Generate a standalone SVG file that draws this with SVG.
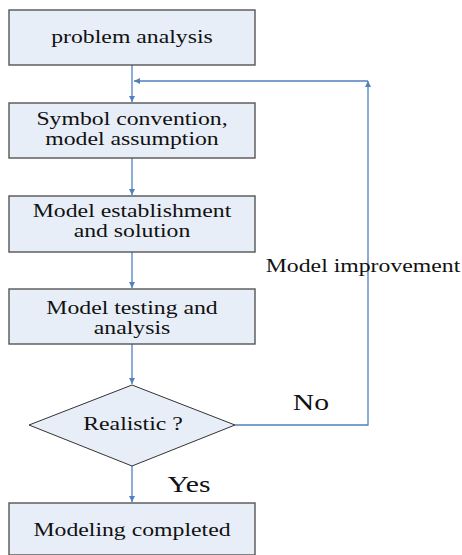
<svg xmlns="http://www.w3.org/2000/svg" width="462" height="555" viewBox="0 0 462 555">
<style>
.box{fill:#E8EEF7;stroke:#555;stroke-width:1.4}
.dia{fill:#E8EEF7;stroke:#333;stroke-width:1}
.con{fill:none;stroke:#4F81BD;stroke-width:1.3}
text{font-family:'Liberation Serif','Times New Roman',serif;fill:#111;text-anchor:middle}
.t{font-size:18px}
.tl{font-size:22.5px}
</style>
<defs>
<marker id="ah" viewBox="0 0 10 10" refX="10" refY="5" markerWidth="7" markerHeight="6" markerUnits="userSpaceOnUse" orient="auto">
<path d="M0,0 L10,5 L0,10 z" fill="#4F81BD"/>
</marker>
</defs>
<g id="connectors">
<path class="con" d="M132,65 V102" marker-end="url(#ah)"/>
<path class="con" d="M132,158 V195" marker-end="url(#ah)"/>
<path class="con" d="M132,252 V288" marker-end="url(#ah)"/>
<path class="con" d="M132,344 V384" marker-end="url(#ah)"/>
<path class="con" d="M132,466 V502" marker-end="url(#ah)"/>
<path class="con" d="M235,425 H368 V81" marker-end="url(#ah)"/>
<path class="con" d="M368,81 H134" marker-end="url(#ah)"/>
</g>
<g id="n1">
<rect class="box" x="9" y="10" width="246" height="55"/>
<text class="t" transform="translate(132,43) scale(1.32,1)">problem analysis</text>
</g>
<g id="n2">
<rect class="box" x="9" y="103" width="246" height="55"/>
<text class="t" transform="translate(132,125) scale(1.32,1)">Symbol convention,</text>
<text class="t" transform="translate(132,145) scale(1.32,1)">model assumption</text>
</g>
<g id="n3">
<rect class="box" x="9" y="196" width="246" height="56"/>
<text class="t" transform="translate(132,217) scale(1.32,1)">Model establishment</text>
<text class="t" transform="translate(132,237) scale(1.32,1)">and solution</text>
</g>
<g id="n4">
<rect class="box" x="9" y="289" width="246" height="55"/>
<text class="t" transform="translate(132,314) scale(1.32,1)">Model testing and</text>
<text class="t" transform="translate(132,334) scale(1.32,1)">analysis</text>
</g>
<g id="n5">
<polygon class="dia" points="132,385 235,425 132,466 29,425"/>
<text class="t" transform="translate(133,430) scale(1.32,1)">Realistic ?</text>
</g>
<g id="n6">
<rect class="box" x="9" y="503" width="246" height="52"/>
<text class="t" transform="translate(132,536) scale(1.32,1)">Modeling completed</text>
</g>
<g id="labels">
<text class="tl" transform="translate(189,492) scale(1.32,1)">Yes</text>
<text class="tl" transform="translate(311,410) scale(1.32,1)">No</text>
<text class="t" transform="translate(363,272) scale(1.32,1)">Model improvement</text>
</g>
</svg>
